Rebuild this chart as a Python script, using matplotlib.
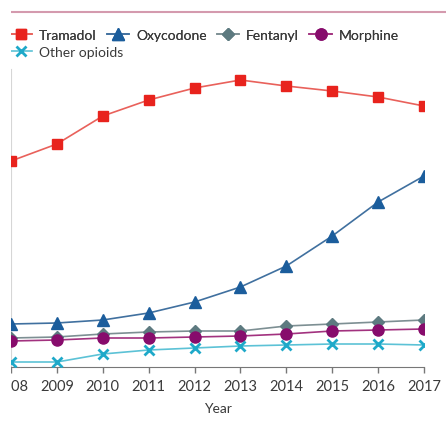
import matplotlib.pyplot as plt
from matplotlib.lines import Line2D
from matplotlib.patches import Rectangle

plt.rcParams['font.family'] = ['Lato', 'DejaVu Sans']

# данные (условные единицы)
years = [2008, 2009, 2010, 2011, 2012, 2013, 2014, 2015, 2016, 2017]
tramadol = [206, 223, 251, 267, 279, 287, 281, 276, 270, 261]
oxycodone = [43, 44, 47, 54, 65, 80, 101, 131, 165, 191]
fentanyl = [29, 30, 33, 35, 36, 36, 41, 43, 45, 47]
morphine = [26, 27, 29, 29, 30, 31, 33, 36, 37, 38]
other = [5, 5, 13, 17, 19, 21, 22, 23, 23, 22]

names = ["Tramadol", "Oxycodone", "Fentanyl", "Morphine", "Other opioids"]
series = [tramadol, oxycodone, fentanyl, morphine, other]
# (цвет линии, цвет маркера, маркер, размер)
styles = [
    ("#e9615b", "#e8231d", "s", 7.5),
    ("#40709f", "#1b5d9c", "^", 8),
    ("#7d8f93", "#5d7a80", "D", 6),
    ("#a2327f", "#870c6c", "o", 8),
    ("#5cc2d6", "#1ea9c9", "x", 6.5),
]

W, H = 446, 427
fig = plt.figure(figsize=(W / 100, H / 100), dpi=100)
ax = fig.add_axes([11 / W, (H - 368) / H, (424 - 11) / W, (368 - 70) / H])

handles = []
for name, vals, (lc, mc, m, ms) in zip(names, series, styles):
    ln, = ax.plot(years, vals, color=lc, lw=1.2, marker=m, markersize=ms,
                  markerfacecolor=mc, markeredgecolor=mc,
                  markeredgewidth=2 if m == "x" else 1, label=name, zorder=3)
    handles.append(ln)

ax.set_xlim(2008, 2017)
ax.set_ylim(0, 298)
ax.set_xticks(years)
ax.set_yticks([])
ax.tick_params(axis="x", direction="out", length=4, width=1, color="#777777",
               labelsize=10.5, labelcolor="#3a3a3a", pad=5)
ax.set_xlabel("Year", fontsize=10, color="#3a3a3a", labelpad=6)

ax.spines["top"].set_visible(False)
ax.spines["right"].set_visible(False)
ax.spines["bottom"].set_color("#777777")
ax.spines["left"].set_color("#d6d6d6")
ax.spines["left"].set_linewidth(0.8)

# легенда: первая строка из четырёх, вторая отдельно
leg1 = fig.legend(handles[:4], names[:4], loc="upper left",
                  bbox_to_anchor=(4 / W, 1 - 24 / H), ncol=4, frameon=False,
                  fontsize=10, handlelength=1.6, handletextpad=0.5,
                  columnspacing=0.75, borderaxespad=0, labelcolor="#3a3a3a")
leg2 = fig.legend(handles[4:], names[4:], loc="upper left",
                  bbox_to_anchor=(4 / W, 1 - 41 / H), frameon=False,
                  fontsize=10, handlelength=1.6, handletextpad=0.5,
                  borderaxespad=0, labelcolor="#3a3a3a")
fig.add_artist(leg1)

# розовая линия сверху, как на обрезанной картинке
fig.add_artist(Line2D([11 / W, 1], [1 - 13 / H] * 2, color="#d49aae", lw=1.5))
# белая полоса слева (подпись 2008 обрезана)
fig.patches.append(Rectangle((0, 0), 10.5 / W, 1, transform=fig.transFigure,
                             facecolor="white", edgecolor="none", zorder=10))

fig.savefig("out.png", dpi=100)
